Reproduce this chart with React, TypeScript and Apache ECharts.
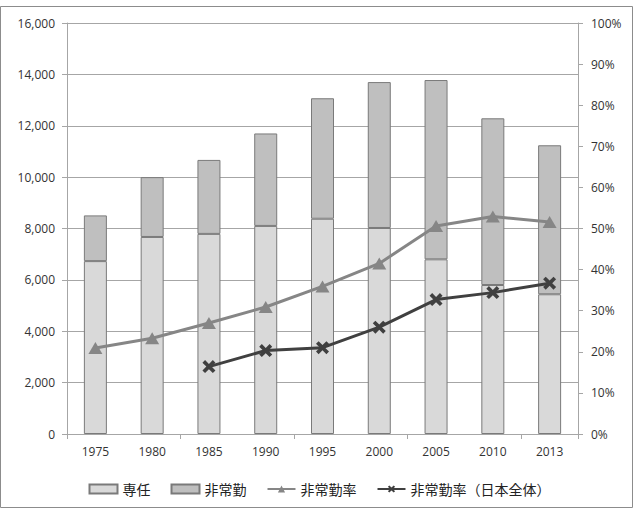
import React, { useEffect, useRef } from "react";
import * as echarts from "echarts";

const years = ["1975", "1980", "1985", "1990", "1995", "2000", "2005", "2010", "2013"];
const fullTime = [6730, 7670, 7790, 8100, 8380, 8020, 6800, 5800, 5440];
const partTime = [1780, 2330, 2880, 3600, 4690, 5680, 6980, 6490, 5800];
const partRate = [20.9, 23.3, 27.0, 30.9, 35.9, 41.5, 50.6, 52.9, 51.6];
const partRateJapan = [null, null, 16.4, 20.3, 21.0, 26.0, 32.7, 34.4, 36.7];

const X_SYMBOL = "path://M0,2 L2,0 L5,3 L8,0 L10,2 L7,5 L10,8 L8,10 L5,7 L2,10 L0,8 L3,5 Z";
const FONT = "'Open Sans', 'Noto Sans', sans-serif";
const CJK = "'Noto Sans CJK JP', sans-serif";

export default function App() {
  const ref = useRef<HTMLDivElement>(null);
  useEffect(() => {
    document.body.style.margin = "0";
    const chart = echarts.init(ref.current!, null, { renderer: "svg" });
    chart.setOption({
      animation: false,
      backgroundColor: "#ffffff",
      graphic: [
        {
          type: "rect",
          shape: { x: 0.5, y: 6.5, width: 632, height: 501 },
          style: { fill: "none", stroke: "#8c8c8c", lineWidth: 1 },
          silent: true,
        },
      ],
      grid: { left: 67, right: 61, top: 23, bottom: 74 },
      legend: {
        top: 477,
        left: "center",
        itemGap: 20,
        itemWidth: 28,
        itemHeight: 9,
        textStyle: { fontFamily: CJK, fontSize: 14, color: "#222" },
        data: [
          { name: "専任", icon: "rect" },
          { name: "非常勤", icon: "rect" },
          { name: "非常勤率" },
          { name: "非常勤率（日本全体）" },
        ],
      },
      xAxis: {
        type: "category",
        data: years,
        boundaryGap: true,
        axisLine: { lineStyle: { color: "#a6a6a6", width: 1 } },
        axisTick: { show: true, interval: 1, length: 5, lineStyle: { color: "#a6a6a6" } },
        axisLabel: { fontFamily: FONT, fontSize: 12, color: "#333", margin: 11, interval: 0 },
      },
      yAxis: [
        {
          type: "value",
          min: 0,
          max: 16000,
          interval: 2000,
          axisLine: { show: true, lineStyle: { color: "#a6a6a6" } },
          axisTick: { show: true, length: 5, lineStyle: { color: "#a6a6a6" } },
          splitLine: { show: true, lineStyle: { color: "#a6a6a6", width: 1 } },
          axisLabel: {
            fontFamily: FONT,
            fontSize: 12,
            color: "#333",
            margin: 12,
            formatter: (v: number) => v.toLocaleString("en-US"),
          },
        },
        {
          type: "value",
          min: 0,
          max: 100,
          interval: 10,
          position: "right",
          axisLine: { show: true, lineStyle: { color: "#a6a6a6" } },
          axisTick: { show: true, length: 5, lineStyle: { color: "#a6a6a6" } },
          splitLine: { show: false },
          axisLabel: { fontFamily: FONT, fontSize: 12, color: "#333", margin: 13, formatter: "{value}%" },
        },
      ],
      series: [
        {
          name: "専任",
          type: "bar",
          stack: "total",
          data: fullTime,
          barWidth: 23,
          itemStyle: { color: "#d9d9d9", borderColor: "#7a7a7a", borderWidth: 1 },
        },
        {
          name: "非常勤",
          type: "bar",
          stack: "total",
          data: partTime,
          barWidth: 23,
          itemStyle: { color: "#bfbfbf", borderColor: "#7a7a7a", borderWidth: 1 },
        },
        {
          name: "非常勤率",
          type: "line",
          yAxisIndex: 1,
          data: partRate,
          symbol: "triangle",
          symbolSize: [14, 12],
          lineStyle: { color: "#868686", width: 3 },
          itemStyle: { color: "#868686" },
        },
        {
          name: "非常勤率（日本全体）",
          type: "line",
          yAxisIndex: 1,
          data: partRateJapan,
          symbol: X_SYMBOL,
          symbolSize: 13,
          lineStyle: { color: "#404040", width: 3 },
          itemStyle: { color: "#404040" },
        },
      ],
    });
    return () => chart.dispose();
  }, []);
  return <div ref={ref} style={{ width: 639, height: 508 }} />;
}
